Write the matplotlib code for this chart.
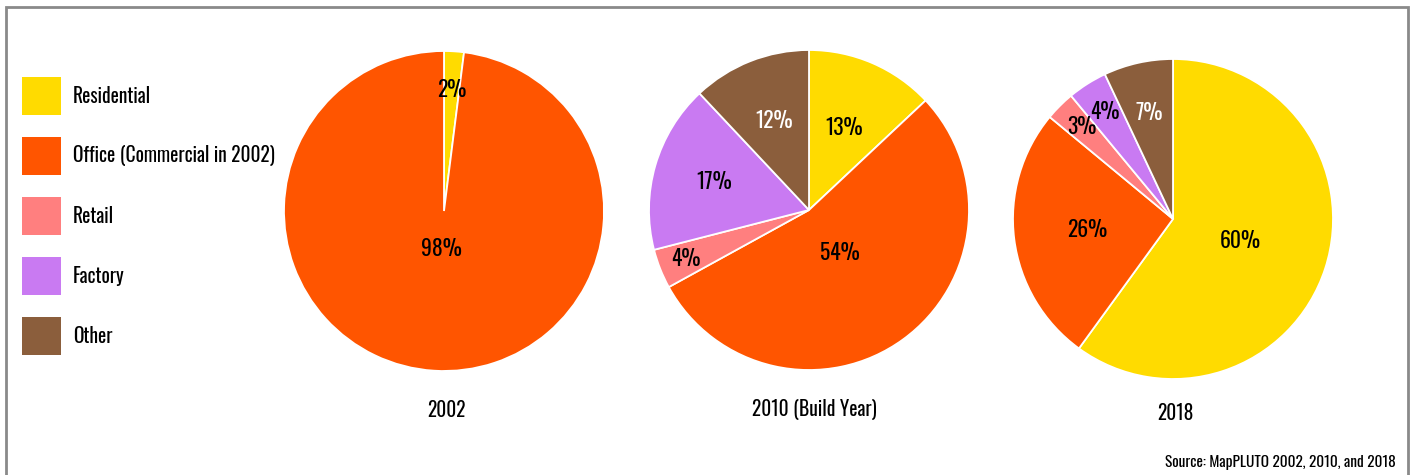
import matplotlib
matplotlib.use("Agg")
import matplotlib.pyplot as plt
from matplotlib.patches import Rectangle
import numpy as np

plt.rcParams['font.family'] = ['Oswald', 'Roboto Condensed', 'Liberation Sans Narrow', 'DejaVu Sans']

# Land-use shares (%)
categories = ["Residential", "Office (Commercial in 2002)", "Retail", "Factory", "Other"]
colors = ["#FFDB00", "#FF5500", "#FF7F7F", "#C97AF2", "#8B5E3C"]

titles = ["2002", "2010 (Build Year)", "2018"]
shares_2002 = [2, 98]
shares_2010 = [13, 54, 4, 17, 12]
shares_2018 = [60, 26, 3, 4, 7]
source_note = "Source: MapPLUTO 2002, 2010, and 2018"

W, H = 1413, 475
fig = plt.figure(figsize=(W / 100, H / 100), dpi=100)
ax = fig.add_axes([0, 0, 1, 1])
ax.set_xlim(0, W)
ax.set_ylim(0, H)
ax.set_aspect('equal')
ax.axis('off')

# frame (open at the bottom)
ax.plot([6, 6, 1408, 1408], [0, H - 7, H - 7, 0], color="#8a8a8a", lw=2,
        solid_joinstyle='miter')

R = 160
pies = [
    (shares_2002, (444, H - 211), [0.76, 0.24], ["black", "black"], (446, H - 410)),
    (shares_2010, (809, H - 210), [0.56, 0.33, 0.83, 0.62, 0.60],
     ["black", "black", "black", "black", "white"], (814, H - 410)),
    (shares_2018, (1173, H - 219), [0.44, 0.54, 0.81, 0.79, 0.68],
     ["black", "black", "black", "black", "white"], (1175, H - 413)),
]

for (vals, center, dists, tcols, tpos), title in zip(pies, titles):
    wedges, _ = ax.pie(vals, colors=colors[:len(vals)], startangle=90, counterclock=False,
                       center=center, radius=R,
                       wedgeprops=dict(edgecolor="white", linewidth=1.3))
    for w, v, d, tc in zip(wedges, vals, dists, tcols):
        mid = np.deg2rad((w.theta1 + w.theta2) / 2)
        x = center[0] + d * R * np.cos(mid)
        y = center[1] + d * R * np.sin(mid)
        ax.text(x, y, f"{v}%", ha="center", va="center", fontsize=15.5, color=tc)
    ax.text(tpos[0], tpos[1], title, ha="center", va="center", fontsize=14, color="black")

# legend swatches
for i, (lab, c) in enumerate(zip(categories, colors)):
    ytop = H - (77 + i * 60)
    ax.add_patch(Rectangle((22, ytop - 38), 39, 38, facecolor=c, edgecolor="none"))
    ax.text(73, ytop - 19, lab, ha="left", va="center", fontsize=14, color="black")

ax.text(1396, H - 463, source_note, ha="right", va="center", fontsize=11, color="black")

ax.set_xlim(0, W)
ax.set_ylim(0, H)
fig.savefig("out.png", dpi=100)
